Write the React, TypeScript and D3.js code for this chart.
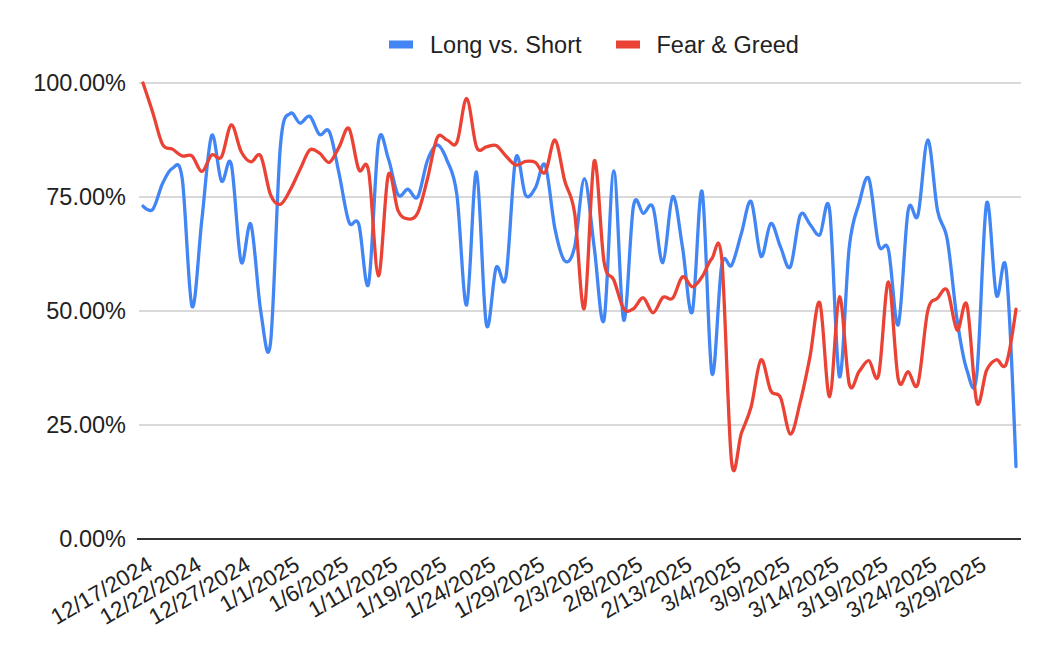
import * as d3 from 'd3';

const dates = [
  '12/17/2024', '12/18/2024', '12/19/2024', '12/20/2024', '12/21/2024',
  '12/22/2024', '12/23/2024', '12/24/2024', '12/25/2024', '12/26/2024',
  '12/27/2024', '12/28/2024', '12/29/2024', '12/30/2024', '12/31/2024',
  '1/1/2025', '1/2/2025', '1/3/2025', '1/4/2025', '1/5/2025',
  '1/6/2025', '1/7/2025', '1/8/2025', '1/9/2025', '1/10/2025',
  '1/11/2025', '1/13/2025', '1/15/2025', '1/16/2025', '1/18/2025',
  '1/19/2025', '1/20/2025', '1/21/2025', '1/22/2025', '1/23/2025',
  '1/24/2025', '1/25/2025', '1/26/2025', '1/27/2025', '1/28/2025',
  '1/29/2025', '1/30/2025', '1/31/2025', '2/1/2025', '2/2/2025',
  '2/3/2025', '2/4/2025', '2/5/2025', '2/6/2025', '2/7/2025',
  '2/8/2025', '2/9/2025', '2/10/2025', '2/11/2025', '2/12/2025',
  '2/13/2025', '2/14/2025', '2/15/2025', '2/16/2025', '3/3/2025',
  '3/4/2025', '3/5/2025', '3/6/2025', '3/7/2025', '3/8/2025',
  '3/9/2025', '3/10/2025', '3/11/2025', '3/12/2025', '3/13/2025',
  '3/14/2025', '3/15/2025', '3/16/2025', '3/17/2025', '3/18/2025',
  '3/19/2025', '3/20/2025', '3/21/2025', '3/22/2025', '3/23/2025',
  '3/24/2025', '3/25/2025', '3/26/2025', '3/27/2025', '3/28/2025',
  '3/29/2025', '3/30/2025', '3/31/2025', '4/1/2025', '4/2/2025',
];

// Long vs. Short, percent
const longShort = [
  73, 72.3, 78, 81.3, 79, 51, 70, 88.5, 78.5, 82.2,
  60.8, 69, 50, 43, 86, 93.3, 91.2, 92.7, 88.7, 89.3,
  80, 69.5, 69, 56, 87, 83.5, 75.5, 76.7, 75, 83,
  86.4, 83, 75.5, 51.3, 80.5, 47.1, 59.5, 57.5, 83.5, 75.4,
  77, 82, 68, 61, 64, 79, 64, 48, 80.7, 48,
  73, 71.4, 72.7, 60.6, 75.1, 64, 49.8, 76.2, 36.3, 60,
  60, 67, 74, 62, 69.2, 64, 59.7, 71, 69, 66.7,
  72.1, 35.6, 64, 73.6, 79, 64.5, 63.4, 47, 72, 71,
  87.5, 72, 65.6, 48, 37, 36, 73.6, 53.5, 59, 15.9,
];

// Fear & Greed, percent
const fearGreed = [
  100, 93.5, 86.5, 85.5, 84, 84, 80.6, 84.2, 83.8, 90.8,
  85, 82.7, 84, 75.5, 73.4, 76.5, 81, 85.3, 84.6, 82.6,
  86, 90, 81, 80.7, 57.7, 79.8, 72, 70.2, 71.5, 79,
  88, 87.5, 87, 96.6, 86, 86, 86.3, 84, 82, 82.8,
  82.6, 80.4, 87.5, 78.5, 71.5, 50.6, 82.9, 60.8, 56.8, 50.5,
  50.5, 52.9, 49.6, 53, 52.8, 57.5, 55.3, 57.5, 61.5, 61.5,
  17, 23.2, 29, 39.3, 32.5, 31, 23, 30, 40, 51.8,
  31.2, 53.1, 34, 36.7, 39.1, 36, 56.4, 35, 36.7, 34,
  50, 52.8, 54.5, 45.8, 51.3, 30, 37, 39.3, 38.4, 50.4,
];

const yTicks = [0, 25, 50, 75, 100];
const seriesNames = ['Long vs. Short', 'Fear & Greed'];
const colors = ['#4285f4', '#ea4335'];

const W = 1054, H = 654;
const FONT = '"Liberation Sans", Arial, Helvetica, sans-serif';

export default function App() {
  const x = d3.scalePoint<string>().domain(dates).range([143, 1016]);
  const y = d3.scaleLinear().domain([0, 100]).range([539, 83]);

  const line = d3.line<number>()
    .x((_, i) => x(dates[i]) as number)
    .y(d => y(d))
    .curve(d3.curveCatmullRom.alpha(0));

  const labelDates = dates.filter((_, i) => i % 5 === 0);

  return (
    <div style={{ position: 'absolute', left: 0, top: 0 }}>
      <svg width={W} height={H} style={{ display: 'block', background: '#fff' }} fontFamily={FONT}>
        {/* legend */}
        <g>
          <rect x={389} y={40.5} width={24} height={8} fill={colors[0]} />
          <text x={430} y={52.5} fontSize={23.5} fill="#222">{seriesNames[0]}</text>
          <rect x={616} y={40.5} width={24} height={8} fill={colors[1]} />
          <text x={656.5} y={52.5} fontSize={23.5} fill="#222">{seriesNames[1]}</text>
        </g>

        {/* gridlines + y labels */}
        {yTicks.map(t => (
          <g key={t}>
            {t !== 0 && (
              <line x1={139} x2={1021} y1={y(t)} y2={y(t)} stroke="#cccccc" strokeWidth={1.4} />
            )}
            <text x={126} y={y(t)} dy="0.35em" textAnchor="end" fontSize={23.5} fill="#222">
              {t.toFixed(2) + '%'}
            </text>
          </g>
        ))}

        {/* series */}
        <path d={line(longShort) || ''} fill="none" stroke={colors[0]} strokeWidth={3.3} strokeLinejoin="round" strokeLinecap="round" />
        <path d={line(fearGreed) || ''} fill="none" stroke={colors[1]} strokeWidth={3.3} strokeLinejoin="round" strokeLinecap="round" />

        {/* x axis */}
        <line x1={137} x2={1021} y1={y(0)} y2={y(0)} stroke="#333" strokeWidth={1.8} />
        {labelDates.map(d => (
          <text
            key={d}
            transform={`translate(${(x(d) as number) + 11},569) rotate(-30)`}
            textAnchor="end"
            fontSize={22.5}
            fill="#222"
          >
            {d}
          </text>
        ))}
      </svg>
    </div>
  );
}
